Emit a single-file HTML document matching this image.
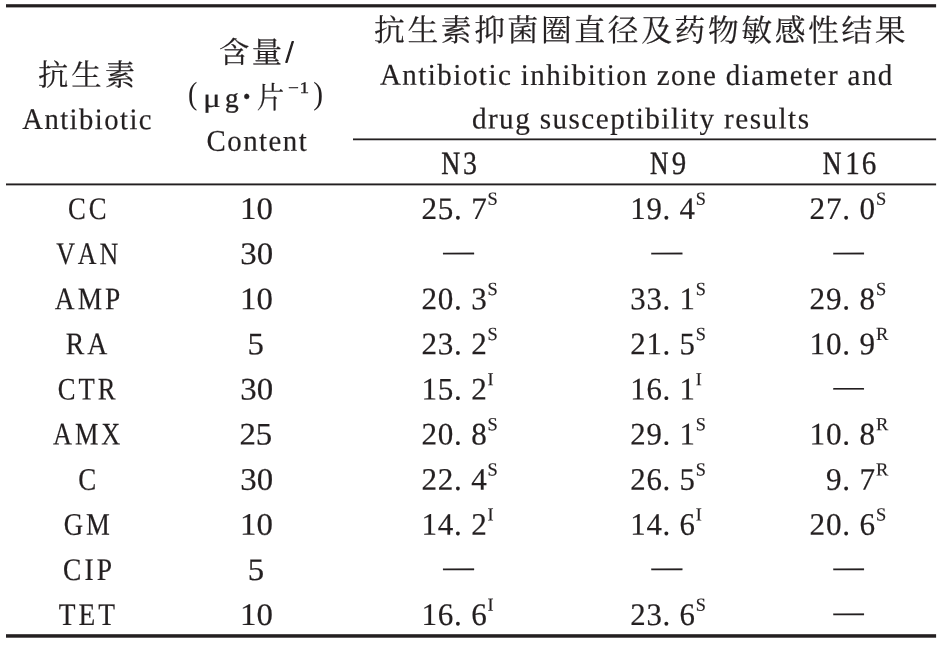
<!DOCTYPE html>
<html lang="zh-CN">
<head>
<meta charset="utf-8">
<title>抗生素抑菌圈直径及药物敏感性结果</title>
<style>
html,body{margin:0;padding:0;background:#fff;}
body{width:942px;height:648px;overflow:hidden;}
svg{display:block;}
text{font-family:"Liberation Serif","Noto Serif CJK SC",serif;fill:#231f20;stroke:#231f20;stroke-width:0.2px;stroke-linejoin:round;white-space:pre;text-rendering:geometricPrecision;}
</style>
</head>
<body>
<svg width="942" height="648" viewBox="0 0 942 648">
<rect x="0" y="0" width="942" height="648" fill="#fff"/>
<g fill="#231f20">
<rect x="6" y="4.2" width="930.1" height="3.2"/>
<rect x="353" y="138.45" width="583.1" height="1.8"/>
<rect x="6" y="183.45" width="930.1" height="1.9"/>
<rect x="6" y="634.2" width="930.1" height="3.5"/>
</g>
<text id="h1a" transform="translate(38.00 85.50) scale(1.0111 1) skewY(0.03)" font-size="30.0" letter-spacing="3.00" stroke-width="0.25">抗生素</text>
<text id="h1b" transform="translate(22.28 129.10) scale(0.9563 1) skewY(0.03)" font-size="30.0" letter-spacing="1.50" stroke-width="0.65">Antibiotic</text>
<text id="h2a" transform="translate(218.94 62.80) skewY(0.03)"><tspan id="h2a_0" x="0.00" y="0.00" font-size="29.6" stroke-width="0.25" letter-spacing="2.5" textLength="65.71" lengthAdjust="spacingAndGlyphs">含量</tspan><tspan id="h2a_1" x="66.88" y="-1.00" font-size="31" stroke-width="1.2" textLength="7.72" lengthAdjust="spacingAndGlyphs">/</tspan></text>
<text id="h2b" transform="translate(188.07 104.00) skewY(0.03)"><tspan id="h2b_0" x="0.00" y="0.00" font-size="32" stroke-width="0" textLength="9.36" lengthAdjust="spacingAndGlyphs">(</tspan><tspan id="h2b_1" x="14.82" y="3.00" font-size="26.5" stroke-width="0.15" textLength="17.85" lengthAdjust="spacingAndGlyphs">μ</tspan><tspan id="h2b_2" x="36.98" y="3.00" font-size="27" stroke-width="0.35" textLength="13.67" lengthAdjust="spacingAndGlyphs">g</tspan><tspan id="h2b_3" x="51.66" y="7.00" font-size="44" stroke-width="0.3" textLength="13.94" lengthAdjust="spacingAndGlyphs">·</tspan><tspan id="h2b_4" x="68.58" y="4.00" font-size="30" stroke-width="0.2" textLength="27.49" lengthAdjust="spacingAndGlyphs">片</tspan><tspan id="h2b_5" x="99.90" y="-11.00" font-size="16.2" stroke-width="0.3" letter-spacing="0.5" textLength="21.77" lengthAdjust="spacingAndGlyphs">−1</tspan><tspan id="h2b_6" x="125.23" y="0.00" font-size="32" stroke-width="0" textLength="9.80" lengthAdjust="spacingAndGlyphs">)</tspan></text>
<text id="h2c" transform="translate(206.57 150.80) scale(0.9625 1) skewY(0.03)" font-size="30.0" letter-spacing="1.50" stroke-width="0.65">Content</text>
<text id="h3a" transform="translate(374.09 41.00) scale(0.9995 1) skewY(0.03)" font-size="30.8" letter-spacing="2.60" stroke-width="0.2">抗生素抑菌圈直径及药物敏感性结果</text>
<text id="h3b" transform="translate(379.88 84.80) scale(0.9688 1) skewY(0.03)" font-size="30.0" letter-spacing="1.50" word-spacing="-0.3" stroke-width="0.65">Antibiotic inhibition zone diameter and</text>
<text id="h3c" transform="translate(471.90 128.40) scale(0.9723 1) skewY(0.03)" font-size="30.0" letter-spacing="1.50" word-spacing="-0.3" stroke-width="0.65">drug susceptibility results</text>
<text id="n3" transform="translate(441.26 174.00) skewY(0.03)"><tspan id="n3_0" x="0.00" y="0.00" font-size="32.5" stroke-width="0.5" textLength="18.91" lengthAdjust="spacingAndGlyphs">N</tspan><tspan id="n3_1" x="21.78" y="0.00" font-size="32.5" stroke-width="0.3" textLength="13.94" lengthAdjust="spacingAndGlyphs">3</tspan></text>
<text id="n9" transform="translate(649.89 174.00) skewY(0.03)"><tspan id="n9_0" x="0.00" y="0.00" font-size="32.5" stroke-width="0.5" textLength="18.47" lengthAdjust="spacingAndGlyphs">N</tspan><tspan id="n9_1" x="21.74" y="0.00" font-size="32.5" stroke-width="0.3" textLength="14.44" lengthAdjust="spacingAndGlyphs">9</tspan></text>
<text id="n16" transform="translate(822.75 174.00) skewY(0.03)"><tspan id="n16_0" x="0.00" y="0.00" font-size="32.5" stroke-width="0.5" textLength="18.79" lengthAdjust="spacingAndGlyphs">N</tspan><tspan id="n16_1" x="22.54" y="0.00" font-size="32.5" stroke-width="0.3" letter-spacing="2.0" textLength="32.71" lengthAdjust="spacingAndGlyphs">16</tspan></text>
<text id="a0" transform="translate(67.97 219.00) scale(0.8502 1) skewY(0.03)" font-size="31.4" letter-spacing="3.50" style="font-kerning:none" stroke-width="0.9">CC</text>
<text id="b0" transform="translate(240.04 219.00) scale(1.0500 1) skewY(0.03)" font-size="31.3" stroke-width="0.25">10</text>
<text id="c0_0" transform="translate(421.40 219.00) scale(0.9944 1) skewY(0.03)" font-size="31.3" letter-spacing="0.80">25. 7<tspan dy="-14.3" font-size="18.5">S</tspan></text>
<text id="c1_0" transform="translate(630.21 219.00) scale(0.9839 1) skewY(0.03)" font-size="31.3" letter-spacing="0.80">19. 4<tspan dy="-14.3" font-size="18.5">S</tspan></text>
<text id="c2_0" transform="translate(809.53 219.00) scale(0.9963 1) skewY(0.03)" font-size="31.3" letter-spacing="0.80">27. 0<tspan dy="-14.3" font-size="18.5">S</tspan></text>
<text id="a1" transform="translate(56.19 264.11) scale(0.8262 1) skewY(0.03)" font-size="31.4" letter-spacing="3.50" style="font-kerning:none" stroke-width="0.9">VAN</text>
<text id="b1" transform="translate(240.30 264.11) scale(1.0500 1) skewY(0.03)" font-size="31.3" stroke-width="0.25">30</text>
<text id="c0_1" transform="translate(443.26 260.71) scale(0.9861 1) skewY(0.03)" font-size="31" stroke-width="0">—</text>
<text id="c1_1" transform="translate(651.43 260.71) scale(0.9895 1) skewY(0.03)" font-size="31" stroke-width="0">—</text>
<text id="c2_1" transform="translate(833.41 260.71) scale(0.9762 1) skewY(0.03)" font-size="31" stroke-width="0">—</text>
<text id="a2" transform="translate(54.83 309.22) scale(0.8720 1) skewY(0.03)" font-size="31.4" letter-spacing="3.50" style="font-kerning:none" stroke-width="0.9">AMP</text>
<text id="b2" transform="translate(240.08 309.22) scale(1.0500 1) skewY(0.03)" font-size="31.3" stroke-width="0.25">10</text>
<text id="c0_2" transform="translate(421.40 309.22) scale(0.9944 1) skewY(0.03)" font-size="31.3" letter-spacing="0.80">20. 3<tspan dy="-14.3" font-size="18.5">S</tspan></text>
<text id="c1_2" transform="translate(630.21 309.22) scale(0.9839 1) skewY(0.03)" font-size="31.3" letter-spacing="0.80">33. 1<tspan dy="-14.3" font-size="18.5">S</tspan></text>
<text id="c2_2" transform="translate(809.53 309.22) scale(0.9963 1) skewY(0.03)" font-size="31.3" letter-spacing="0.80">29. 8<tspan dy="-14.3" font-size="18.5">S</tspan></text>
<text id="a3" transform="translate(65.63 354.33) scale(0.8838 1) skewY(0.03)" font-size="31.4" letter-spacing="3.50" style="font-kerning:none" stroke-width="0.9">RA</text>
<text id="b3" transform="translate(247.62 354.33) scale(1.0500 1) skewY(0.03)" font-size="31.3" stroke-width="0.25">5</text>
<text id="c0_3" transform="translate(421.40 354.33) scale(0.9944 1) skewY(0.03)" font-size="31.3" letter-spacing="0.80">23. 2<tspan dy="-14.3" font-size="18.5">S</tspan></text>
<text id="c1_3" transform="translate(630.21 354.33) scale(0.9839 1) skewY(0.03)" font-size="31.3" letter-spacing="0.80">21. 5<tspan dy="-14.3" font-size="18.5">S</tspan></text>
<text id="c2_3" transform="translate(809.53 354.33) scale(0.9963 1) skewY(0.03)" font-size="31.3" letter-spacing="0.80">10. 9<tspan dy="-14.3" font-size="18.5">R</tspan></text>
<text id="a4" transform="translate(57.75 399.44) scale(0.8486 1) skewY(0.03)" font-size="31.4" letter-spacing="3.50" style="font-kerning:none" stroke-width="0.9">CTR</text>
<text id="b4" transform="translate(240.30 399.44) scale(1.0500 1) skewY(0.03)" font-size="31.3" stroke-width="0.25">30</text>
<text id="c0_4" transform="translate(421.40 399.44) scale(0.9944 1) skewY(0.03)" font-size="31.3" letter-spacing="0.80">15. 2<tspan dy="-14.3" font-size="18.5">I</tspan></text>
<text id="c1_4" transform="translate(630.21 399.44) scale(0.9839 1) skewY(0.03)" font-size="31.3" letter-spacing="0.80">16. 1<tspan dy="-14.3" font-size="18.5">I</tspan></text>
<text id="c2_4" transform="translate(833.40 396.04) scale(0.9758 1) skewY(0.03)" font-size="31" stroke-width="0">—</text>
<text id="a5" transform="translate(53.09 444.55) scale(0.8383 1) skewY(0.03)" font-size="31.4" letter-spacing="3.50" style="font-kerning:none" stroke-width="0.9">AMX</text>
<text id="b5" transform="translate(239.38 444.55) scale(1.0500 1) skewY(0.03)" font-size="31.3" stroke-width="0.25">25</text>
<text id="c0_5" transform="translate(421.40 444.55) scale(0.9944 1) skewY(0.03)" font-size="31.3" letter-spacing="0.80">20. 8<tspan dy="-14.3" font-size="18.5">S</tspan></text>
<text id="c1_5" transform="translate(630.21 444.55) scale(0.9839 1) skewY(0.03)" font-size="31.3" letter-spacing="0.80">29. 1<tspan dy="-14.3" font-size="18.5">S</tspan></text>
<text id="c2_5" transform="translate(809.53 444.55) scale(0.9963 1) skewY(0.03)" font-size="31.3" letter-spacing="0.80">10. 8<tspan dy="-14.3" font-size="18.5">R</tspan></text>
<text id="a6" transform="translate(78.18 489.67) scale(0.8594 1) skewY(0.03)" font-size="31.4" letter-spacing="3.50" style="font-kerning:none" stroke-width="0.9">C</text>
<text id="b6" transform="translate(240.30 489.67) scale(1.0500 1) skewY(0.03)" font-size="31.3" stroke-width="0.25">30</text>
<text id="c0_6" transform="translate(421.40 489.67) scale(0.9944 1) skewY(0.03)" font-size="31.3" letter-spacing="0.80">22. 4<tspan dy="-14.3" font-size="18.5">S</tspan></text>
<text id="c1_6" transform="translate(630.21 489.67) scale(0.9839 1) skewY(0.03)" font-size="31.3" letter-spacing="0.80">26. 5<tspan dy="-14.3" font-size="18.5">S</tspan></text>
<text id="c2_6" transform="translate(825.92 489.67) scale(0.9963 1) skewY(0.03)" font-size="31.3" letter-spacing="0.80">9. 7<tspan dy="-14.3" font-size="18.5">R</tspan></text>
<text id="a7" transform="translate(63.73 534.78) scale(0.8532 1) skewY(0.03)" font-size="31.4" letter-spacing="3.50" style="font-kerning:none" stroke-width="0.9">GM</text>
<text id="b7" transform="translate(240.04 534.78) scale(1.0500 1) skewY(0.03)" font-size="31.3" stroke-width="0.25">10</text>
<text id="c0_7" transform="translate(421.40 534.78) scale(0.9944 1) skewY(0.03)" font-size="31.3" letter-spacing="0.80">14. 2<tspan dy="-14.3" font-size="18.5">I</tspan></text>
<text id="c1_7" transform="translate(630.21 534.78) scale(0.9839 1) skewY(0.03)" font-size="31.3" letter-spacing="0.80">14. 6<tspan dy="-14.3" font-size="18.5">I</tspan></text>
<text id="c2_7" transform="translate(809.53 534.78) scale(0.9963 1) skewY(0.03)" font-size="31.3" letter-spacing="0.80">20. 6<tspan dy="-14.3" font-size="18.5">S</tspan></text>
<text id="a8" transform="translate(63.03 579.89) scale(0.8762 1) skewY(0.03)" font-size="31.4" letter-spacing="3.50" style="font-kerning:none" stroke-width="0.9">CIP</text>
<text id="b8" transform="translate(247.67 579.89) scale(1.0500 1) skewY(0.03)" font-size="31.3" stroke-width="0.25">5</text>
<text id="c0_8" transform="translate(443.26 576.49) scale(0.9861 1) skewY(0.03)" font-size="31" stroke-width="0">—</text>
<text id="c1_8" transform="translate(651.43 576.49) scale(0.9895 1) skewY(0.03)" font-size="31" stroke-width="0">—</text>
<text id="c2_8" transform="translate(833.41 576.49) scale(0.9762 1) skewY(0.03)" font-size="31" stroke-width="0">—</text>
<text id="a9" transform="translate(58.74 625.00) scale(0.8731 1) skewY(0.03)" font-size="31.4" letter-spacing="3.50" style="font-kerning:none" stroke-width="0.9">TET</text>
<text id="b9" transform="translate(240.04 625.00) scale(1.0500 1) skewY(0.03)" font-size="31.3" stroke-width="0.25">10</text>
<text id="c0_9" transform="translate(421.40 625.00) scale(0.9944 1) skewY(0.03)" font-size="31.3" letter-spacing="0.80">16. 6<tspan dy="-14.3" font-size="18.5">I</tspan></text>
<text id="c1_9" transform="translate(630.21 625.00) scale(0.9839 1) skewY(0.03)" font-size="31.3" letter-spacing="0.80">23. 6<tspan dy="-14.3" font-size="18.5">S</tspan></text>
<text id="c2_9" transform="translate(833.41 621.60) scale(0.9762 1) skewY(0.03)" font-size="31" stroke-width="0">—</text>
</svg>
</body>
</html>
